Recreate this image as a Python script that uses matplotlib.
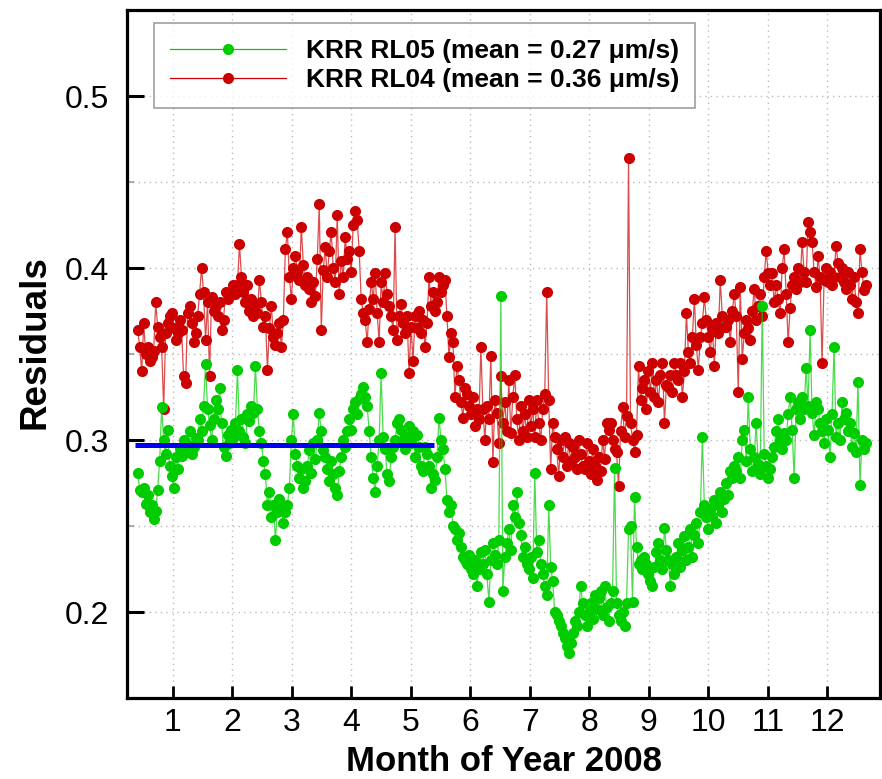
import numpy as np
import matplotlib
matplotlib.use("Agg")
import matplotlib.pyplot as plt
from matplotlib import font_manager

# ---------------- data ----------------
months = [1, 2, 3, 4, 5, 6, 7, 8, 9, 10, 11, 12]
month_labels = [str(m) for m in months]
yticks_major = [0.2, 0.3, 0.4, 0.5]
yticks_minor = [0.25, 0.35, 0.45]

start_month = 0.41          # x position (months) of first daily value
span_months = 12.24         # x span covered by the daily values

rl05 = [
    # chunk 0
    0.281, 0.271, 0.270, 0.272, 0.263, 0.268, 0.258, 0.262, 0.254, 0.259,
    0.271, 0.288, 0.319, 0.300, 0.292, 0.306, 0.285, 0.279, 0.272, 0.290,
    0.283, 0.295, 0.291, 0.300, 0.293, 0.297, 0.305, 0.292, 0.296, 0.301,
    # chunk 1
    0.300, 0.312, 0.305, 0.320, 0.344, 0.318, 0.309, 0.300, 0.312, 0.323,
    0.318, 0.330, 0.310, 0.296, 0.291, 0.303, 0.298, 0.306, 0.301, 0.310,
    0.341, 0.305, 0.312, 0.302, 0.298, 0.315, 0.311, 0.320, 0.316, 0.343,
    # chunk 2
    0.318, 0.305, 0.298, 0.288, 0.280, 0.262, 0.270, 0.255, 0.262, 0.242,
    0.258, 0.266, 0.260, 0.252, 0.258, 0.262, 0.272, 0.300, 0.315, 0.292,
    0.285, 0.278, 0.283, 0.272, 0.276, 0.285, 0.294, 0.281, 0.298, 0.289,
    # chunk 3
    0.300, 0.316, 0.305, 0.294, 0.290, 0.283, 0.276, 0.288, 0.280, 0.272,
    0.268, 0.282, 0.290, 0.300, 0.296, 0.305, 0.312, 0.306, 0.318, 0.322,
    0.315, 0.324, 0.327, 0.331, 0.325, 0.320, 0.305, 0.290, 0.278, 0.270,
    # chunk 4
    0.285, 0.300, 0.339, 0.302, 0.295, 0.280, 0.276, 0.290, 0.296, 0.300,
    0.310, 0.312, 0.306, 0.300, 0.295, 0.302, 0.308, 0.298, 0.305, 0.290,
    0.303, 0.296, 0.285, 0.282, 0.296, 0.292, 0.285, 0.272, 0.280, 0.277,
    # chunk 5
    0.290, 0.313, 0.300, 0.295, 0.283, 0.265, 0.258, 0.262, 0.250, 0.248,
    0.242, 0.246, 0.238, 0.232, 0.230, 0.228, 0.233, 0.225, 0.222, 0.230,
    0.215, 0.225, 0.235, 0.228, 0.236, 0.222, 0.206, 0.230, 0.240, 0.233,
    # chunk 6
    0.228, 0.242, 0.384, 0.212, 0.232, 0.240, 0.248, 0.236, 0.262, 0.255,
    0.270, 0.252, 0.245, 0.232, 0.238, 0.228, 0.225, 0.232, 0.220, 0.281,
    0.235, 0.242, 0.228, 0.222, 0.215, 0.210, 0.262, 0.226, 0.218, 0.200,
    # chunk 7
    0.198, 0.195, 0.192, 0.188, 0.185, 0.180, 0.176, 0.182, 0.188, 0.195,
    0.192, 0.200, 0.215, 0.205, 0.198, 0.192, 0.200, 0.205, 0.196, 0.210,
    0.202, 0.208, 0.212, 0.198, 0.215, 0.203, 0.195, 0.205, 0.212, 0.284,
    # chunk 8
    0.205, 0.198, 0.195, 0.200, 0.192, 0.205, 0.248, 0.250, 0.206, 0.267,
    0.238, 0.228, 0.230, 0.225, 0.232, 0.228, 0.222, 0.218, 0.215, 0.226,
    0.235, 0.240, 0.230, 0.225, 0.249, 0.236, 0.230, 0.215, 0.228, 0.222,
    # chunk 9
    0.232, 0.240, 0.226, 0.236, 0.244, 0.230, 0.238, 0.248, 0.232, 0.245,
    0.252, 0.240, 0.258, 0.302, 0.262, 0.255, 0.248, 0.260, 0.256, 0.265,
    0.252, 0.262, 0.270, 0.258, 0.266, 0.275, 0.268, 0.282, 0.278, 0.285,
    # chunk 10
    0.282, 0.290, 0.278, 0.300, 0.306, 0.288, 0.325, 0.295, 0.282, 0.290,
    0.310, 0.286, 0.280, 0.378, 0.292, 0.285, 0.278, 0.283, 0.290, 0.296,
    0.305, 0.312, 0.300, 0.295, 0.304, 0.300, 0.315, 0.325, 0.306, 0.278,
    # chunk 11
    0.318, 0.322, 0.312, 0.325, 0.318, 0.342, 0.320, 0.364, 0.316, 0.303,
    0.322, 0.318, 0.310, 0.305, 0.298, 0.312, 0.306, 0.290, 0.315, 0.354,
    0.302, 0.310, 0.300, 0.322, 0.312, 0.316, 0.305, 0.310, 0.296, 0.304,
    # tail
    0.293, 0.334, 0.274, 0.300, 0.295, 0.298,
]

rl04 = [
    # chunk 0
    0.364, 0.354, 0.340, 0.368, 0.350, 0.354, 0.346, 0.348, 0.352, 0.380,
    0.366, 0.360, 0.354, 0.318, 0.362, 0.368, 0.372, 0.374, 0.365, 0.358,
    0.362, 0.370, 0.364, 0.337, 0.333, 0.374, 0.378, 0.368, 0.357, 0.362,
    # chunk 1
    0.372, 0.385, 0.400, 0.386, 0.358, 0.380, 0.337, 0.383, 0.375, 0.378,
    0.372, 0.380, 0.364, 0.370, 0.386, 0.382, 0.384, 0.386, 0.390, 0.385,
    0.390, 0.414, 0.395, 0.386, 0.380, 0.390, 0.375, 0.382, 0.372, 0.378,
    # chunk 2
    0.374, 0.393, 0.380, 0.366, 0.372, 0.341, 0.365, 0.378, 0.360, 0.355,
    0.362, 0.368, 0.354, 0.370, 0.411, 0.421, 0.395, 0.382, 0.400, 0.407,
    0.398, 0.393, 0.424, 0.402, 0.390, 0.395, 0.388, 0.380, 0.392, 0.384,
    # chunk 3
    0.405, 0.437, 0.364, 0.399, 0.412, 0.395, 0.410, 0.421, 0.400, 0.392,
    0.431, 0.385, 0.404, 0.395, 0.418, 0.405, 0.410, 0.398, 0.425, 0.433,
    0.428, 0.410, 0.382, 0.374, 0.370, 0.357, 0.376, 0.392, 0.382, 0.397,
    # chunk 4
    0.374, 0.357, 0.392, 0.380, 0.397, 0.385, 0.378, 0.372, 0.364, 0.424,
    0.358, 0.372, 0.379, 0.368, 0.362, 0.372, 0.339, 0.366, 0.346, 0.372,
    0.365, 0.375, 0.362, 0.370, 0.354, 0.368, 0.395, 0.378, 0.386, 0.375,
    # chunk 5
    0.380, 0.395, 0.386, 0.390, 0.393, 0.372, 0.348, 0.362, 0.357, 0.325,
    0.343, 0.335, 0.322, 0.313, 0.330, 0.327, 0.320, 0.315, 0.325, 0.308,
    0.318, 0.312, 0.354, 0.318, 0.300, 0.320, 0.312, 0.349, 0.287, 0.323,
    # chunk 6
    0.316, 0.298, 0.337, 0.310, 0.322, 0.305, 0.335, 0.304, 0.325, 0.338,
    0.312, 0.300, 0.320, 0.305, 0.315, 0.302, 0.323, 0.308, 0.318, 0.302,
    0.323, 0.310, 0.300, 0.318, 0.327, 0.386, 0.323, 0.283, 0.310, 0.302,
    # chunk 7
    0.295, 0.279, 0.300, 0.290, 0.302, 0.285, 0.298, 0.288, 0.296, 0.290,
    0.283, 0.300, 0.292, 0.285, 0.283, 0.298, 0.288, 0.280, 0.295, 0.285,
    0.277, 0.290, 0.282, 0.300, 0.289, 0.310, 0.306, 0.310, 0.300, 0.295,
    # chunk 8
    0.293, 0.273, 0.305, 0.319, 0.302, 0.314, 0.464, 0.310, 0.300, 0.293,
    0.303, 0.343, 0.323, 0.330, 0.335, 0.318, 0.340, 0.328, 0.345, 0.325,
    0.335, 0.322, 0.338, 0.345, 0.310, 0.332, 0.331, 0.338, 0.328, 0.345,
    # chunk 9
    0.338, 0.335, 0.345, 0.325, 0.340, 0.374, 0.351, 0.345, 0.360, 0.382,
    0.355, 0.341, 0.360, 0.368, 0.383, 0.370, 0.360, 0.351, 0.365, 0.343,
    0.368, 0.362, 0.393, 0.372, 0.366, 0.366, 0.370, 0.357, 0.375, 0.385,
    # chunk 10
    0.372, 0.328, 0.389, 0.347, 0.362, 0.370, 0.365, 0.358, 0.375, 0.388,
    0.370, 0.378, 0.385, 0.372, 0.395, 0.410, 0.397, 0.390, 0.397, 0.380,
    0.390, 0.382, 0.374, 0.400, 0.411, 0.385, 0.357, 0.377, 0.390, 0.395,
    # chunk 11
    0.388, 0.400, 0.392, 0.415, 0.398, 0.392, 0.427, 0.421, 0.415, 0.398,
    0.389, 0.407, 0.395, 0.345, 0.393, 0.400, 0.392, 0.398, 0.390, 0.395,
    0.413, 0.403, 0.395, 0.400, 0.392, 0.388, 0.398, 0.390, 0.382, 0.395,
    # tail
    0.380, 0.374, 0.411, 0.398, 0.387, 0.390,
]

ref_level = 0.297            # blue reference line
ref_x = [0.36, 5.39]

label_rl05 = "KRR RL05 (mean = 0.27 \u03bcm/s)"
label_rl04 = "KRR RL04 (mean = 0.36 \u03bcm/s)"

# ---------------- style ----------------
names = {f.name for f in font_manager.fontManager.ttflist}
tick_font = "Liberation Sans Narrow" if "Liberation Sans Narrow" in names else "Liberation Sans"
plt.rcParams["font.family"] = ["Liberation Sans", "DejaVu Sans"]

green = "#00CC00"
red = "#CC0000"
MS = 8.0

fig = plt.figure(figsize=(8.82, 7.79), dpi=100)
ax = fig.add_axes([0.144, 0.104, 0.854, 0.883])

n = len(rl05)
x = start_month + np.arange(n) * span_months / (n - 1)
x4 = start_month + np.arange(len(rl04)) * span_months / (len(rl04) - 1)

ax.plot(x4, rl04, "-", color=red, lw=0.9, alpha=0.7, zorder=3)
ax.plot(x4, rl04, "o", color=red, ms=MS, mew=0, zorder=3.1)
ax.plot(x, rl05, "-", color=green, lw=0.9, alpha=0.7, zorder=4)
ax.plot(x, rl05, "o", color=green, ms=MS, mew=0, zorder=4.1)

ax.plot(ref_x, [ref_level, ref_level], color="#0000EE", lw=3.6, zorder=5,
        solid_capstyle="butt")

# legend proxies
h1, = ax.plot([], [], "-o", color=green, lw=0.9, ms=MS, mew=0)
h2, = ax.plot([], [], "-o", color=red, lw=0.9, ms=MS, mew=0)
leg = ax.legend([h1, h2], [label_rl05, label_rl04], loc="upper left",
                bbox_to_anchor=(0.036, 0.981), frameon=True, fancybox=False,
                edgecolor="#888888", handlelength=4.4, handletextpad=0.75,
                borderpad=0.6, labelspacing=0.18, borderaxespad=0.0,
                prop={"weight": "bold", "size": 19,
                      "family": ["Liberation Sans", "DejaVu Sans"]})
leg.get_frame().set_linewidth(1.2)

ax.set_xlim(0.23, 12.89)
ax.set_ylim(0.15, 0.55)
ax.set_xticks(months)
ax.set_xticklabels(month_labels)
ax.set_yticks(yticks_major)
ax.set_yticks(yticks_minor, minor=True)
ax.set_yticklabels([f"{v:.1f}" for v in yticks_major])

ax.grid(True, which="major", axis="x", ls=(0, (1, 3)), color="#BBBBBB", lw=1.0)
ax.grid(True, which="both", axis="y", ls=(0, (1, 3)), color="#BBBBBB", lw=1.0)
ax.set_axisbelow(True)

ax.tick_params(axis="x", which="major", direction="in", length=9, width=2,
               pad=7, labelsize=23)
ax.tick_params(axis="y", which="major", direction="in", length=12, width=2.2,
               pad=13, labelsize=23)
ax.tick_params(axis="y", which="minor", direction="in", length=5, width=1.2,
               color="#999999")
ax.tick_params(axis="x", which="minor", bottom=False)
for lab in ax.get_xticklabels() + ax.get_yticklabels():
    lab.set_family([tick_font, "DejaVu Sans"])

for s in ax.spines.values():
    s.set_linewidth(2.3)

ax.set_xlabel("Month of Year 2008", fontsize=25, fontweight="bold",
              family=[tick_font, "DejaVu Sans"])
ax.xaxis.label.set_va("center")
ax.xaxis.set_label_coords(0.5007, -0.093)
ax.set_ylabel("Residuals", fontsize=26.5, fontweight="bold",
              family=[tick_font, "DejaVu Sans"])
ax.yaxis.label.set_va("center")
ax.yaxis.set_label_coords(-0.122, 0.517)

fig.savefig("out.png", dpi=100)
